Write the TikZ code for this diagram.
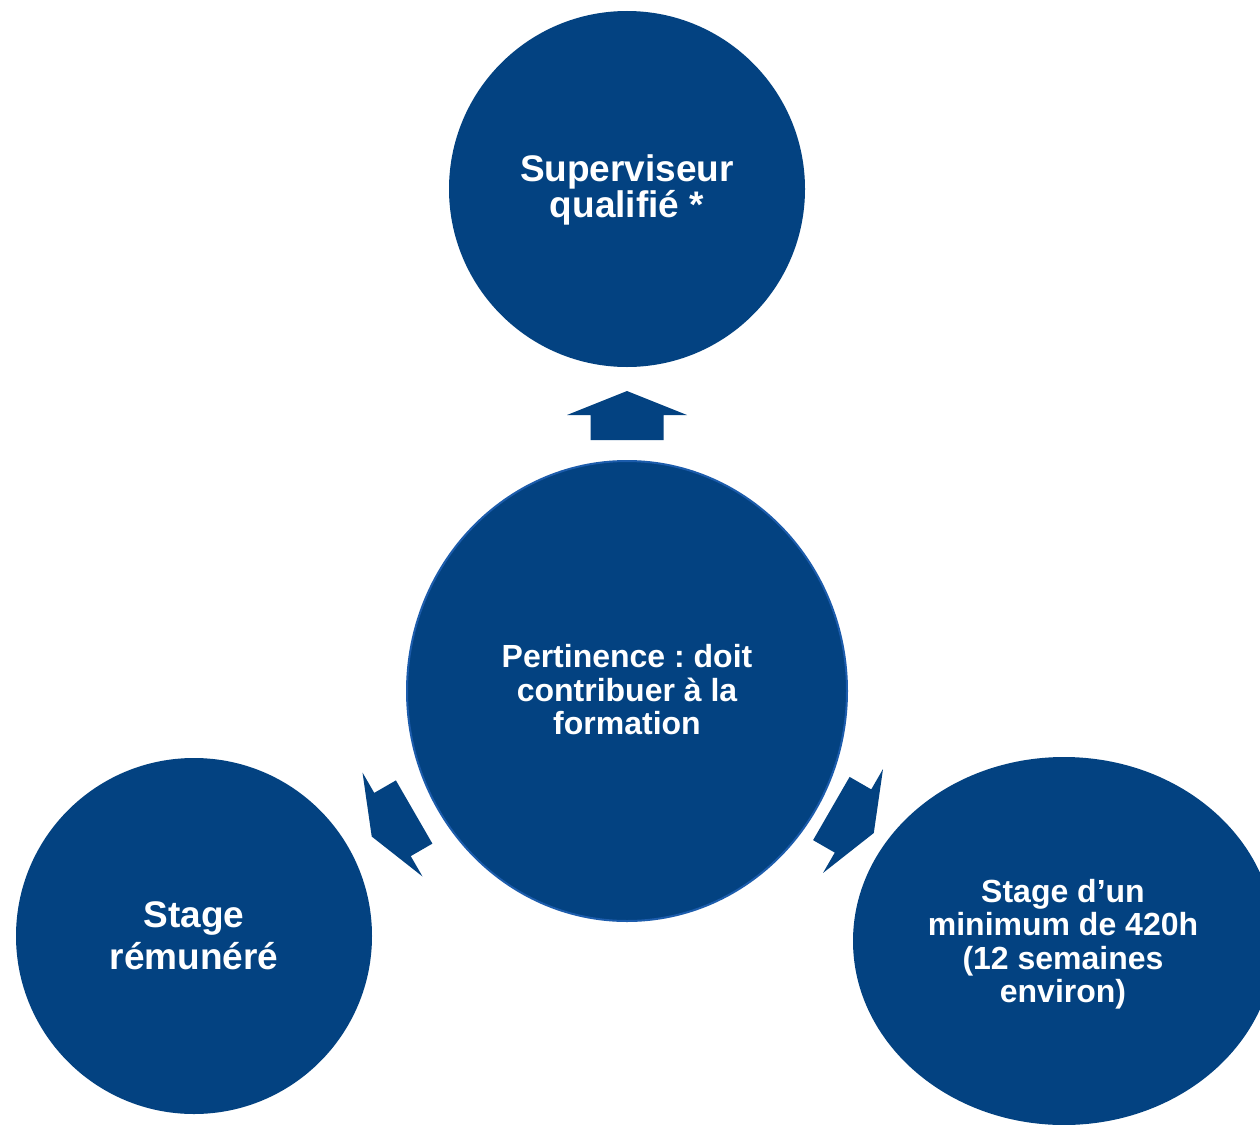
\documentclass[tikz,border=0pt]{standalone}
\usepackage{fontspec}
\setmainfont{Liberation Sans}
\usetikzlibrary{shapes.geometric}
\definecolor{dblue}{RGB}{3,66,129}
\definecolor{edgeblue}{RGB}{28,92,172}
\frenchspacing
\tikzset{
  bubble/.style={fill=dblue, text=white, align=center, inner sep=0pt, font=\bfseries},
  bigfont/.style={font=\bfseries\fontsize{37}{36.6}\selectfont},
  smallfont/.style={font=\bfseries\fontsize{32}{33.5}\selectfont},
  bigarrow/.pic={\fill[dblue] (24,0) -- (0,60) -- (0,36.5) -- (-25,36.5) -- (-25,-36.5) -- (0,-36.5) -- (0,-60) -- cycle;}
}
\begin{document}
\begin{tikzpicture}[x=1pt,y=-1pt]
\useasboundingbox (0,0) rectangle (1260,1124);
\clip (0,0) rectangle (1260,1124);
\fill[white] (0,0) rectangle (1260,1124);
% satellites
\node[bubble, circle, minimum size=356pt] (top) at (627,189) {};
\node[bigfont, text=white, align=center, inner sep=0pt] (toptext) at (627,190) {Superviseur\\qualifié *};
\node[bubble, circle, minimum size=356pt] (left) at (194,936) {};
\node[font=\bfseries\fontsize{37}{41.5}\selectfont, text=white, align=center, inner sep=0pt] (lefttext) at (194,936) {Stage\\rémunéré};
\node[bubble, ellipse, minimum width=422pt, minimum height=368pt] (right) at (1064,941) {};
\node[smallfont, text=white, align=center, inner sep=0pt] (righttext) at (1063,944) {Stage d’un\\minimum de 420h\\(12 semaines\\environ)};
% centre
\node[bubble, ellipse, draw=edgeblue, line width=2pt, minimum width=440pt, minimum height=460pt] (centre) at (627,691) {};
\node[smallfont, text=white, align=center, inner sep=0pt] (centretext) at (627,690) {Pertinence : doit\\contribuer à la\\formation};
% arrows
\pic[rotate=90] at (627,415) {bigarrow};
\pic[rotate=210] at (392.5,824.5) {bigarrow};
\pic[rotate=-30] at (853,821) {bigarrow};
\end{tikzpicture}
\end{document}
